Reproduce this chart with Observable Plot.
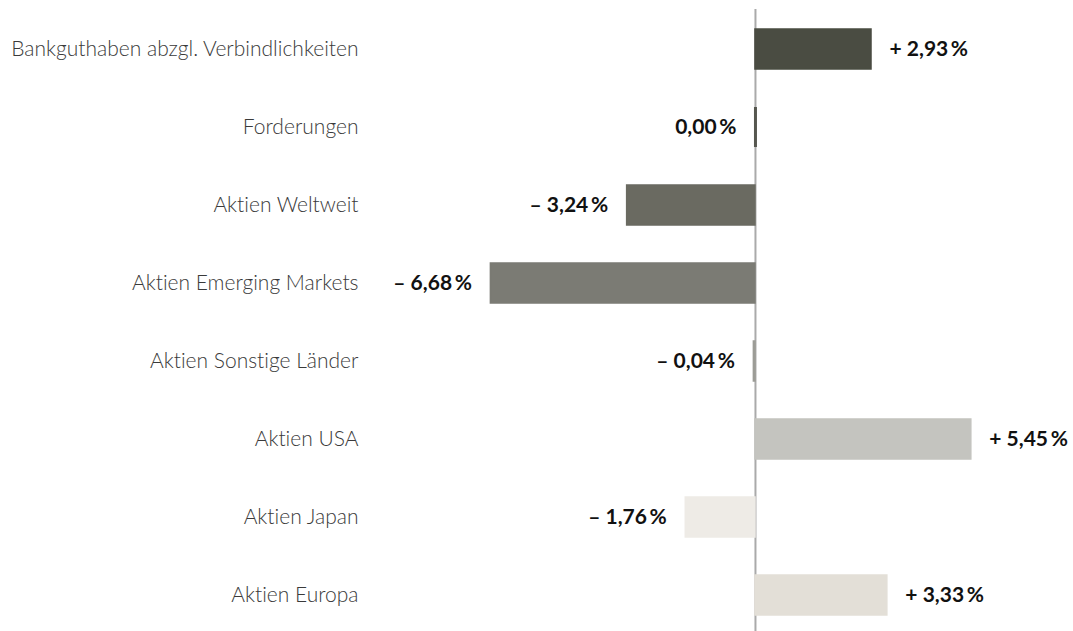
<!DOCTYPE html>
<html><head><meta charset="utf-8">
<script src="https://cdn.jsdelivr.net/npm/d3@7"></script>
<script src="https://cdn.jsdelivr.net/npm/@observablehq/plot@0.6"></script>
<style>
body{margin:0;background:#fff;}
svg{font-family:Lato,sans-serif;font-variant-ligatures:none;}
.cat text{font-weight:300;}
</style></head><body>
<div id="chart"></div>
<script>
const categories = ["Bankguthaben abzgl. Verbindlichkeiten","Forderungen","Aktien Weltweit","Aktien Emerging Markets","Aktien Sonstige Länder","Aktien USA","Aktien Japan","Aktien Europa"];
const values = [2.93, 0.00, -3.24, -6.68, -0.04, 5.45, -1.76, 3.33];
const colors = ["#4a4c42","#56574f","#6a6a61","#7b7b74","#9c9c96","#c4c4bf","#eeebe6","#e3dfd7"];

const data = categories.map((c,i)=>({cat:c, value:values[i], color:colors[i]}));
const fmt = v => (v > 0 ? "+ " : v < 0 ? "\u2013 " : "") + Math.abs(v).toFixed(2).replace(".", ",") + "\u2009%";

const chart = Plot.plot({
  width: 1073, height: 631,
  marginLeft: 370, marginRight: 0, marginTop: 27, marginBottom: 14,
  x: {domain: [-9.72, 8.03], axis: null},
  y: {domain: categories, paddingInner: 0.49, paddingOuter: 0, label: null},
  marks: [
    Plot.axisY({tickSize: 0, tickPadding: 12, fontSize: 21, fill: "#3a3a3a", className: "cat", label: null}),
    Plot.ruleX([0], {stroke: "#aaa", strokeWidth: 2, insetTop: -18, insetBottom: -14}),
    Plot.barX(data, {y: "cat", x1: 0, x2: "value", fill: "color", stroke: "color", strokeWidth: 1.5}),
    Plot.tickX(data.filter(d => d.value === 0), {y: "cat", x: 0, stroke: "color", strokeWidth: 3}),
    Plot.text(data.filter(d => d.value > 0), {y: "cat", x: "value", text: d => fmt(d.value),
      textAnchor: "start", dx: 18, fontSize: 21, fontWeight: "bold", fill: "#111"}),
    Plot.text(data.filter(d => d.value <= 0), {y: "cat", x: "value", text: d => fmt(d.value),
      textAnchor: "end", dx: -19, fontSize: 21, fontWeight: "bold", fill: "#111"})
  ]
});
document.getElementById("chart").appendChild(chart);
</script></body></html>
